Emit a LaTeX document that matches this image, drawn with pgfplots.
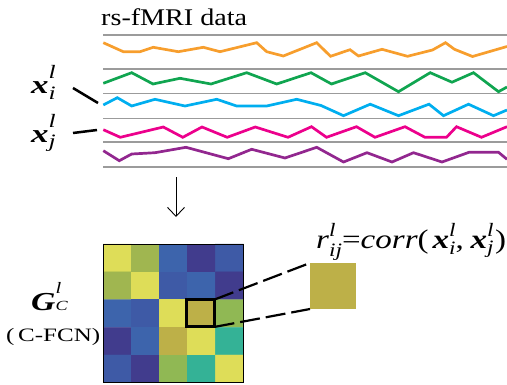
\documentclass[border=0pt]{standalone}
\usepackage{pgfplots}
\pgfplotsset{compat=1.18}
\usepackage{fontspec}
\setmainfont{Liberation Serif}
\usepackage{graphicx}
\usetikzlibrary{arrows.meta}

\definecolor{cOrange}{RGB}{247,158,45}
\definecolor{cGreen}{RGB}{16,165,80}
\definecolor{cCyan}{RGB}{0,174,239}
\definecolor{cMagenta}{RGB}{236,0,140}
\definecolor{cPurple}{RGB}{146,39,143}
\definecolor{cGrid}{RGB}{155,155,155}
\definecolor{cOlive}{RGB}{189,176,72}

\newcommand{\supsub}[4]{\makebox[0pt][l]{\raisebox{#3}{#1}}\raisebox{-#4}{#2}}
\newcommand{\fs}[1]{\fontsize{#1}{#1}\selectfont}

\begin{document}
\begin{tikzpicture}
\begin{axis}[
  scale only axis, width=507bp, height=385bp,
  xmin=0, xmax=507, ymin=0, ymax=385, y dir=reverse,
  hide axis, clip=false,
  colormap={hm}{rgb255=(65,60,141) rgb255=(62,90,166) rgb255=(61,100,172) rgb255=(52,178,150) rgb255=(144,184,84) rgb255=(160,182,80) rgb255=(189,176,72) rgb255=(222,221,88)},
  point meta min=0, point meta max=7,
]
% grey separator lines
\foreach \yy in {35,69,93.3,118.3,142,167} {
  \edef\temp{\noexpand\addplot[cGrid, line width=1.1bp] coordinates {(103,\yy) (507,\yy)};}
  \temp
}
% time series
\addplot[cOrange, line width=2.7bp] coordinates {(103.3,42.7)(123.3,51.7)(140,51.7)(153.3,47.3)(178.3,51.7)(203.3,47.3)(220,51.7)(256.7,42.7)(266.7,51.7)(283.3,56)(316.7,42.7)(330.5,56.3)(350,49.7)(358.5,56)(382,49.3)(407.5,56.3)(432.5,50)(445.5,42.7)(454.5,49.3)(472.5,56.5)(507,46.5)};
\addplot[cGreen, line width=2.7bp] coordinates {(103.3,83.3)(131.7,72.7)(153,84)(180,78.3)(211,84)(246.7,72.7)(276.7,84)(311,72.7)(331.5,84)(365.2,72.7)(398.5,91.7)(430.2,72.7)(452,82.2)(473.5,72.7)(498.5,91.7)(507,87)};
\addplot[cCyan, line width=2.7bp] coordinates {(103.3,105)(117.3,97.7)(131.7,106)(155,99.3)(185,106)(216.7,99.3)(236.7,106)(266.7,106)(296.7,99.3)(321,105.5)(343.5,115.7)(370.2,104.2)(398.5,115.7)(429,104.2)(443.5,115.7)(468.5,104.2)(493.5,115.7)(507,110)};
\addplot[cMagenta, line width=2.7bp] coordinates {(103.3,129.7)(120.3,137.3)(163.3,127)(182.8,137.3)(202,127)(227.2,137.3)(255.3,127)(288,137.3)(311.5,126.7)(326.5,137.3)(356.5,126.7)(375,137.3)(405,126.7)(425,137.3)(446.5,137.3)(456.5,126.7)(481.5,137.3)(507,126.7)};
\addplot[cPurple, line width=2.7bp] coordinates {(103.3,150.7)(119.3,160.7)(131.7,154)(155,152.7)(186,147.3)(228.3,158.7)(251.7,149.3)(285,158)(316.7,147.3)(343.5,162)(367,152.7)(392,162)(413.5,152.7)(442,162)(469,152.3)(498.5,152.3)(507,159.3)};

% correlation matrix
\addplot[matrix plot*, mesh/cols=5, mesh/rows=5, point meta=explicit] table[meta=c] {
x y c
117.3 257.9 7
145.3 257.9 5
173.3 257.9 2
201.3 257.9 0
229.3 257.9 1
117.3 285.6 5
145.3 285.6 7
173.3 285.6 1
201.3 285.6 2
229.3 285.6 0
117.3 313.4 2
145.3 313.4 1
173.3 313.4 7
201.3 313.4 6
229.3 313.4 4
117.3 341.1 0
145.3 341.1 2
173.3 341.1 6
201.3 341.1 7
229.3 341.1 3
117.3 368.8 1
145.3 368.8 0
173.3 368.8 4
201.3 368.8 3
229.3 368.8 7
};
\draw[black, line width=1bp] (103.3,244) rectangle (243.3,382.7);
\draw[black, line width=3bp] (186.6,299.5) rectangle (214.6,326.9);

% enlarged element
\addplot[draw=none, fill=cOlive] coordinates {(310,263)(356,263)(356,309)(310,309)} -- cycle;
\draw[black, line width=2.2bp, dash pattern=on 20bp off 6bp] (214.6,299.5) -- (310,263);
\draw[black, line width=2.2bp, dash pattern=on 20bp off 6bp] (214.6,326.9) -- (310,309);

% arrow
\draw[black, line width=0.9bp, -{Straight Barb[length=9bp,width=17bp]}] (176,177) -- (176,217);

% pointer lines
\draw[black, line width=2.5bp] (73,88) -- (98,103);
\draw[black, line width=2.5bp] (73,133) -- (97,130);

% texts
\node[anchor=base west, inner sep=0] at (101,26) {\resizebox{146bp}{\height}{\fs{24}rs-fMRI data}};
\node[anchor=base west, inner sep=0] at (31,93) {\scalebox{1.35}[1]{\fs{26}\textbf{\textit{x}}\supsub{\fs{19}\itshape l}{\fs{19}\itshape i}{15bp}{6bp}}};
\node[anchor=base west, inner sep=0] at (31,142) {\scalebox{1.35}[1]{\fs{26}\textbf{\textit{x}}\supsub{\fs{19}\itshape l}{\fs{19}\itshape j}{15bp}{5bp}}};
\node[anchor=base west, inner sep=0] at (31,310) {\scalebox{1.3}[1]{\fs{26}\textbf{\textit{G}}\supsub{\fs{16}\itshape l}{\fs{14}\itshape C}{17bp}{0bp}}};
\node[anchor=base west, inner sep=0] at (6,341) {\resizebox{94bp}{\height}{\fs{19}(\hspace{0.15em}C-FCN)}};
\node[anchor=base west, inner sep=0] at (316,248) {\resizebox{190bp}{\height}{\fs{27}\textit{r}\supsub{\fs{19}\itshape l}{\fs{19}\itshape ij}{12bp}{8bp}=\textit{corr}(\hspace{0.12em}\textbf{\textit{x}}\supsub{\fs{19}\itshape l}{\fs{19}\itshape i}{12bp}{6bp},\hspace{0.2em}\textbf{\textit{x}}\supsub{\fs{19}\itshape l}{\fs{19}\itshape j}{12bp}{5bp}\hspace{0.05em})}};
\end{axis}
\pgfresetboundingbox
\path (0,0) rectangle (507bp,385bp);
\end{tikzpicture}
\end{document}
